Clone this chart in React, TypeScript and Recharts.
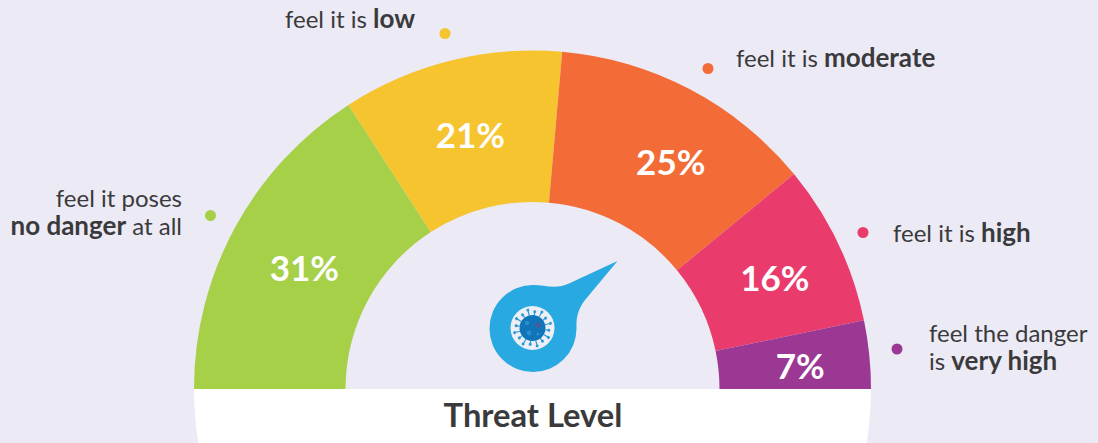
import { Pie, PieChart, Cell } from 'recharts'

// threat level shares, measured from the arc
const categories = ['no danger', 'low', 'moderate', 'high', 'very high']
const arcShares = [31.7, 21.1, 25.3, 15.4, 6.5]
const percentLabels = ['31%', '21%', '25%', '16%', '7%']
const sliceColors = ['#a6d048', '#f5c42f', '#f36c37', '#e93c6c', '#9b3893']
const chartTitle = 'Threat Level'

const CX = 532.5
const CY = 389
const BG = '#ECEAF5'
const TEXT = '#3a3a3c'
const FONT = 'Lato, sans-serif'

const arcData = categories.map((name, i) => ({ name, value: arcShares[i] }))
const baseData = [{ name: 'base', value: 1 }]

// small nudges so the numbers sit where the original has them
const labelNudge = [
  [2, 3],
  [1, -1],
  [16, 4],
  [6, 1],
  [7, 3],
]

function renderPercent(props: any) {
  const { midAngle, index } = props
  const rad = (midAngle * Math.PI) / 180
  const x = CX + 262 * Math.cos(rad) + labelNudge[index][0]
  const y = CY - 262 * Math.sin(rad) + labelNudge[index][1]
  return (
    <text
      x={x}
      y={y}
      textAnchor="middle"
      dominantBaseline="central"
      fill="#fff"
      fontFamily={FONT}
      fontWeight={700}
      fontSize={35}
    >
      {percentLabels[index]}
    </text>
  )
}

// title sits on the white half, as the pie's own label so it stays on top
function renderTitle() {
  return (
    <text x={533} y={427} textAnchor="middle" fontFamily={FONT} fontWeight={700} fontSize={32.7} fill={TEXT}>
      {chartTitle}
    </text>
  )
}

// the needle with the virus picture
function Needle() {
  const spikes = Array.from({ length: 16 }, (_, i) => (i * 360) / 16 + 8)
  return (
    <g>
      <path
        d="M617.5 261 L585 300 C578 309 576 318 576.5 328.5 A43.5 43.5 0 1 1 533 285 C545 285 556 290 570 283 Z"
        fill="#29a9e1"
      />
      <circle cx={532.5} cy={328} r={22} fill="#eceff6" />
      {spikes.map((a, i) => (
        <g key={a} transform={`rotate(${a} 532.5 328)`}>
          <line x1={532.5} y1={315} x2={532.5} y2={i % 2 ? 310 : 312} stroke="#2a9ad6" strokeWidth={1.2} />
          <circle cx={532.5} cy={i % 2 ? 309.5 : 311.5} r={1.5} fill="#2a9ad6" />
        </g>
      ))}
      <circle cx={532.5} cy={328} r={13} fill="#0f74b8" />
      <circle cx={538} cy={325} r={2.6} fill="#4b5c9c" />
      <circle cx={527} cy={323} r={2.2} fill="#2a8fd0" />
      <circle cx={529} cy={333} r={2.4} fill="#2a8fd0" />
      <circle cx={538} cy={334} r={1.6} fill="#2a8fd0" />
    </g>
  )
}

function Note({ x, y, anchor, lines }: { x: number; y: number; anchor?: 'start' | 'end'; lines: [string, string, string][] }) {
  return (
    <text x={x} y={y} textAnchor={anchor ?? 'start'} fontFamily={FONT} fontSize={24} fill={TEXT}>
      {lines.map(([a, b, c], i) => (
        <tspan key={i} x={x} dy={i === 0 ? 0 : 28}>
          {a}
          <tspan fontWeight={700} fontSize={26}>{b}</tspan>
          {c}
        </tspan>
      ))}
    </text>
  )
}

export default function App() {
  return (
    <div style={{ position: 'absolute', left: 0, top: 0, width: 1098, height: 443, background: BG, overflow: 'hidden' }}>
      <PieChart width={1098} height={443} margin={{ top: 0, right: 0, bottom: 0, left: 0 }}>
        <Pie
          data={baseData}
          dataKey="value"
          cx={CX}
          cy={CY}
          startAngle={180}
          endAngle={360}
          innerRadius={0}
          outerRadius={338.5}
          fill="#fff"
          stroke="none"
          label={renderTitle}
          labelLine={false}
          isAnimationActive={false}
        />
        <Pie
          data={arcData}
          dataKey="value"
          cx={CX}
          cy={CY}
          startAngle={180}
          endAngle={0}
          innerRadius={187}
          outerRadius={338.5}
          stroke="none"
          label={renderPercent}
          labelLine={false}
          isAnimationActive={false}
        >
          {arcData.map((d, i) => (
            <Cell key={d.name} fill={sliceColors[i]} />
          ))}
        </Pie>
        <Needle />
        <circle cx={210.5} cy={215.5} r={5.5} fill={sliceColors[0]} />
        <circle cx={445} cy={33.5} r={5.5} fill={sliceColors[1]} />
        <circle cx={708} cy={68.5} r={5.5} fill={sliceColors[2]} />
        <circle cx={863} cy={232.5} r={5.5} fill={sliceColors[3]} />
        <circle cx={897} cy={349} r={5.5} fill={sliceColors[4]} />
        <Note x={182} y={207} anchor="end" lines={[['feel it poses', '', ''], ['', 'no danger', ' at all']]} />
        <Note x={415} y={28} anchor="end" lines={[['feel it is ', 'low', '']]} />
        <Note x={736} y={67} lines={[['feel it is ', 'moderate', '']]} />
        <Note x={893} y={242} lines={[['feel it is ', 'high', '']]} />
        <Note x={929} y={342} lines={[['feel the danger', '', ''], ['is ', 'very high', '']]} />
      </PieChart>
    </div>
  )
}
